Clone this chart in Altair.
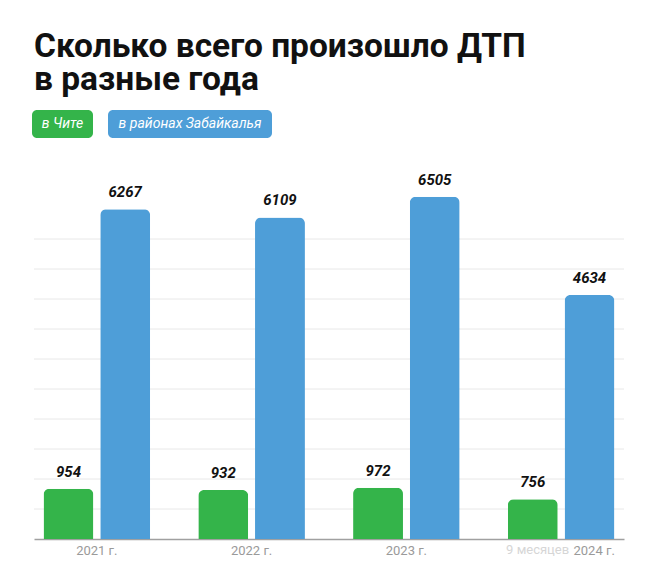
import altair as alt
import pandas as pd

years = ["2021 г.", "2022 г.", "2023 г.", "2024 г."]
series = ["в Чите", "в районах Забайкалья"]
chita = [954, 932, 972, 756]
districts = [6267, 6109, 6505, 4634]
colors = ["#34b44a", "#4e9ed8"]
grid_values = [570, 1140, 1710, 2280, 2850, 3420, 3990, 4560, 5130, 5700]
note_year = "2024 г."
note_text = "9 месяцев"
title_lines = ["Сколько всего произошло ДТП", "в разные года"]

rows = []
for i, yr in enumerate(years):
    rows.append({"year": yr, "series": series[0], "value": chita[i]})
    rows.append({"year": yr, "series": series[1], "value": districts[i]})
df = pd.DataFrame(rows)

W, H = 590, 354

x_enc = alt.X(
    "year:N", sort=years,
    scale=alt.Scale(paddingInner=0.311, paddingOuter=0.0615),
    axis=alt.Axis(
        title=None, ticks=False, labelPadding=5, labelFont="Roboto",
        labelFontSize=13, labelColor="#9a9a9a", domainColor="#a0a0a0",
        domainWidth=1.5, labelAngle=0, grid=False,
        labelOffset={"condition": {"test": "datum.value == '2024 г.'", "value": 33}, "value": 0},
    ),
)
y_scale = alt.Scale(domain=[0, 6726], nice=False)
y_enc = alt.Y("value:Q", scale=y_scale, axis=None)
xoff = alt.XOffset("series:N", sort=series, scale=alt.Scale(paddingInner=0.12))
col = alt.Color("series:N", scale=alt.Scale(domain=series, range=colors), legend=None)

grid = alt.Chart(pd.DataFrame({"g": grid_values})).mark_rule(
    color="#e8e8e8", strokeWidth=1
).encode(y=alt.Y("g:Q", scale=y_scale, axis=None))

base = alt.Chart(df)
bars = base.mark_bar(cornerRadiusTopLeft=6, cornerRadiusTopRight=6).encode(
    x=x_enc, y=y_enc, xOffset=xoff, color=col
)
vals = base.mark_text(
    font="Roboto", fontSize=15, fontWeight="bold", fontStyle="italic",
    baseline="bottom", dy=-9, color="#111111"
).encode(x=alt.X("year:N", sort=years), y="value:Q", xOffset=xoff, text="value:Q")

note = alt.Chart(pd.DataFrame({"year": [note_year], "t": [note_text]})).mark_text(
    font="Roboto", fontSize=13, color="#d6d6d6", align="right", baseline="top", dx=8
).encode(x=alt.X("year:N", sort=years), y=alt.value(H + 5), text="t:N")


def pill(name, color, x0, x1):
    b = alt.Chart(pd.DataFrame({"label": [name]}))
    rect = b.mark_rect(cornerRadius=5, color=color).encode(
        x=alt.value(x0), x2=alt.value(x1), y=alt.value(-75), y2=alt.value(-47)
    )
    txt = b.mark_text(font="Roboto", fontSize=14, fontStyle="italic",
                      fontWeight="normal", color="white").encode(
        x=alt.value((x0 + x1) / 2), y=alt.value(-61), text="label:N"
    )
    return [rect, txt]


layers = [grid, bars, vals, note] + pill(series[0], colors[0], -2, 59) + pill(series[1], colors[1], 74, 238)

chart = alt.layer(*layers).properties(
    width=W, height=H,
    title=alt.TitleParams(
        text=title_lines, anchor="start", frame="group", font="Roboto",
        fontSize=33.5, fontWeight="bold", color="#111111", lineHeight=33, offset=13,
    ),
    autosize=alt.AutoSizeParams(type="none"),
    padding={"left": 26, "top": 177, "right": 24, "bottom": 30},
).configure(background="white").configure_view(stroke=None)

chart.save("out.html", embed_options={"renderer": "svg", "actions": False})
